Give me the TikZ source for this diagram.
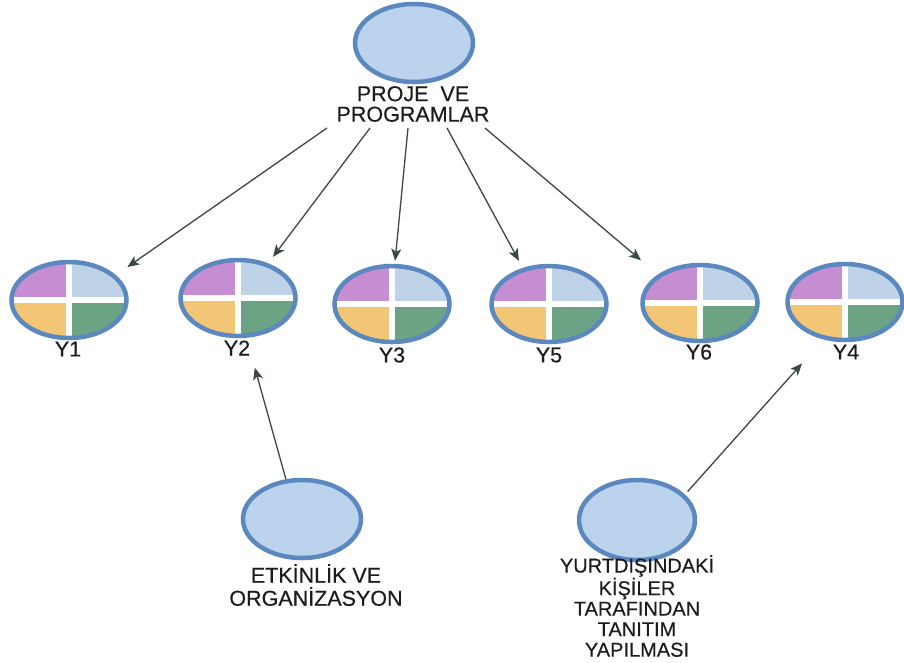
\documentclass[tikz,border=0pt]{standalone}
\usepackage{fontspec}
\setmainfont{Liberation Sans}
% a slightly heavier cut of the sans for all captions
\newfontfamily\capfont{Liberation Sans}[FakeBold=0.4]
\usetikzlibrary{shapes.geometric,arrows.meta}

\definecolor{rimblue}{HTML}{5B88BE}
\definecolor{bubble}{HTML}{BCD3EE}
\definecolor{qpurple}{HTML}{C68DD2}
\definecolor{qblue}{HTML}{BED2E8}
\definecolor{qyellow}{HTML}{F3C676}
\definecolor{qgreen}{HTML}{6CA384}
\definecolor{linkgray}{HTML}{3A4847}
\definecolor{inkgray}{HTML}{1C1C1C}

\tikzset{
  plainbubble/.style={ellipse, inner sep=0pt, minimum width=118pt, minimum height=78pt,
    fill=bubble, draw=rimblue, line width=4.5pt},
  quadbubble/.style={ellipse, inner sep=0pt, minimum width=115pt, minimum height=76pt,
    draw=rimblue, line width=4.5pt,
    path picture={
      \fill[qpurple] (path picture bounding box.north west) rectangle (path picture bounding box.center);
      \fill[qblue] (path picture bounding box.north east) rectangle (path picture bounding box.center);
      \fill[qyellow] (path picture bounding box.south west) rectangle (path picture bounding box.center);
      \fill[qgreen] (path picture bounding box.south east) rectangle (path picture bounding box.center);
      \draw[white, line width=6.5pt] (path picture bounding box.north) -- (path picture bounding box.south);
      \draw[white, line width=6.5pt] (path picture bounding box.west) -- (path picture bounding box.east);
    }},
  caption/.style={align=center, inner sep=0pt, text=inkgray,
    font=\capfont\fontsize{21.5}{23}\selectfont},
  topcaption/.style={caption, font=\capfont\fontsize{21.5}{20.5}\selectfont},
  tallcaption/.style={caption, font=\capfont\fontsize{20}{20.5}\selectfont},
  link/.style={draw=linkgray, line width=1.3pt,
    -{Stealth[length=12pt, width=10pt, inset=3pt]}}
}

\begin{document}
\begin{tikzpicture}[x=1pt, y=-1pt]
  \useasboundingbox (0,0) rectangle (904,662);

  % source bubbles
  \node[plainbubble] (proje) at (414,43) {};
  \node[topcaption] (projeLbl) at (413,104) {PROJE\ \ VE\\PROGRAMLAR};

  \node[plainbubble] (etk) at (302,519) {};
  \node[caption] (etkLbl) at (316,585) {ETKİNLİK VE\\ORGANİZASYON};

  \node[plainbubble, minimum width=116pt, minimum height=80pt] (yurt) at (637,520) {};
  \node[tallcaption] (yurtLbl) at (637,606)
    {YURTDIŞINDAKİ\\KİŞİLER\\TARAFINDAN\\TANITIM\\YAPILMASI};

  % target bubbles with four quadrants
  \node[quadbubble] (Y1) at (69,300) {};
  \node[quadbubble] (Y2) at (238,298) {};
  \node[quadbubble] (Y3) at (392,304) {};
  \node[quadbubble] (Y5) at (549,304) {};
  \node[quadbubble] (Y6) at (700,303) {};
  \node[quadbubble] (Y4) at (845,302) {};

  \node[caption] (Y1lbl) at (68,349) {Y1};
  \node[caption] (Y2lbl) at (237,348) {Y2};
  \node[caption] (Y3lbl) at (392,355) {Y3};
  \node[caption] (Y5lbl) at (549,355) {Y5};
  \node[caption] (Y6lbl) at (699,352) {Y6};
  \node[caption] (Y4lbl) at (846,352) {Y4};

  % fan of links leaving the top caption
  \coordinate (f1) at (327,128);
  \coordinate (f2) at (370,128);
  \coordinate (f3) at (408,128);
  \coordinate (f4) at (447,128);
  \coordinate (f5) at (485,128);

  \draw[link, shorten >=14pt] (f1) -- (Y1.28);
  \draw[link, shorten >=8pt]  (f2) -- (Y2.49);
  \draw[link, shorten >=3pt]  (f3) -- (Y3.86);
  \draw[link, shorten >=8pt]  (f4) -- (Y5.126);
  \draw[link, shorten >=22pt] (f5) -- (Y6.146);

  % links rising from the lower bubbles
  \draw[link, shorten >=31pt] (etk.112) -- (Y2.-78);
  \draw[link, shorten <=4pt, shorten >=32pt] (yurt.28) -- (Y4.-120);
\end{tikzpicture}
\end{document}
